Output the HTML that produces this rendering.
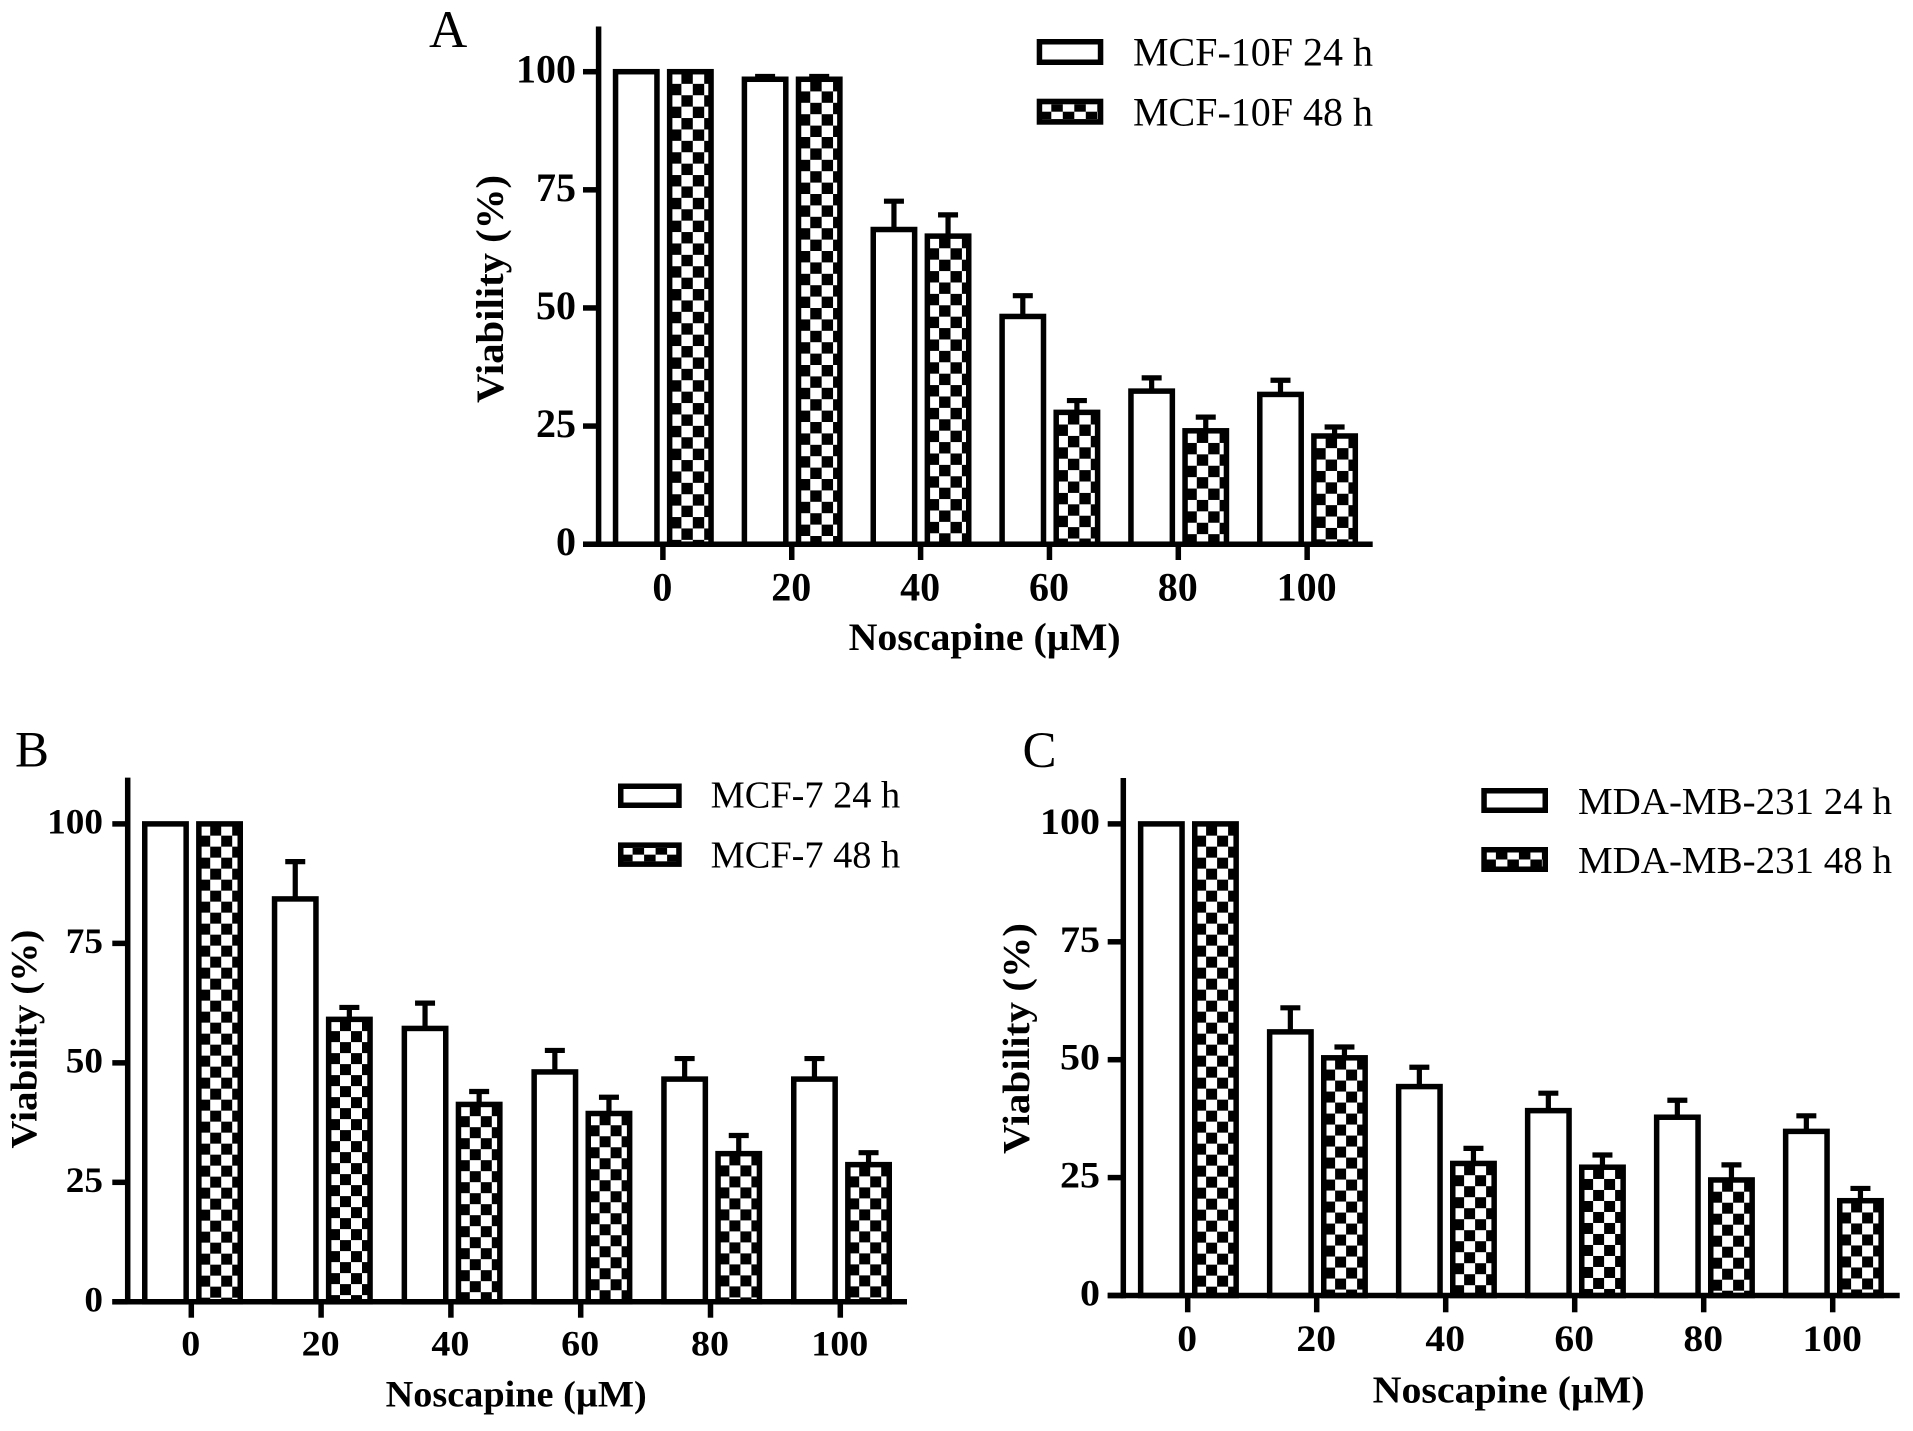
<!DOCTYPE html>
<html lang="en">
<head>
<meta charset="utf-8">
<title>Noscapine viability charts</title>
<style>
html,body{margin:0;padding:0;background:#fff;}
svg{display:block;}
text{font-family:"Liberation Serif","DejaVu Serif",serif;fill:#000;}
</style>
</head>
<body>
<svg id="figure" xmlns="http://www.w3.org/2000/svg" width="1913" height="1431" viewBox="0 0 1913 1431">
<rect x="0" y="0" width="1913" height="1431" fill="#fff"/>
</svg>
<script>
// Shared axis data
const categories = ['0', '20', '40', '60', '80', '100'];
const yTickValues = [0, 25, 50, 75, 100];

// Panel A: MCF-10F
const a24Values = [100, 98.4, 66.6, 48.2, 32.4, 31.7];
const a24Errors = [0, 0.6, 6.0, 4.4, 2.8, 3.0];
const a48Values = [100, 98.4, 65.2, 27.9, 24.0, 22.9];
const a48Errors = [0, 0.6, 4.5, 2.5, 2.9, 1.9];

// Panel B: MCF-7
const b24Values = [100, 84.3, 57.2, 48.1, 46.6, 46.6];
const b24Errors = [0, 7.8, 5.3, 4.5, 4.3, 4.3];
const b48Values = [100, 59.1, 41.3, 39.4, 31.0, 28.7];
const b48Errors = [0, 2.5, 2.7, 3.4, 3.8, 2.5];

// Panel C: MDA-MB-231
const c24Values = [100, 55.9, 44.3, 39.2, 37.8, 34.8];
const c24Errors = [0, 5.1, 4.1, 3.7, 3.6, 3.3];
const c48Values = [100, 50.4, 28.0, 27.2, 24.5, 20.1];
const c48Errors = [0, 2.3, 3.2, 2.6, 3.2, 2.6];

const NS = 'http://www.w3.org/2000/svg';
const figure = document.getElementById('figure');
const defs = document.createElementNS(NS, 'defs');
figure.appendChild(defs);
let patternCount = 0;

function shape(parent, tag, attrs) {
  const el = document.createElementNS(NS, tag);
  for (const k in attrs) el.setAttribute(k, attrs[k]);
  parent.appendChild(el);
  return el;
}

function checker(x, y, cw, ch) {
  patternCount += 1;
  const id = 'chk' + patternCount;
  const p = shape(defs, 'pattern', {id: id, patternUnits: 'userSpaceOnUse', x: x, y: y, width: cw * 2, height: ch * 2});
  shape(p, 'rect', {x: 0, y: 0, width: cw * 2, height: ch * 2, fill: '#fff'});
  shape(p, 'rect', {x: cw, y: 0, width: cw, height: ch, fill: '#000'});
  shape(p, 'rect', {x: 0, y: ch, width: cw, height: ch, fill: '#000'});
  return 'url(#' + id + ')';
}

function label(parent, str, x, y, size, opts) {
  const a = {x: x, y: y, 'font-size': size};
  if (opts.bold) a['font-weight'] = 'bold';
  if (opts.anchor) a['text-anchor'] = opts.anchor;
  if (opts.len) { a.textLength = opts.len; a.lengthAdjust = 'spacingAndGlyphs'; }
  if (opts.rotate) a.transform = 'rotate(-90 ' + x + ' ' + y + ')';
  const t = shape(parent, 'text', a);
  t.textContent = str;
  return t;
}

function drawPanel(cfg) {
  const g = shape(figure, 'g', {});
  
  
  const y = v => cfg.yZero - (cfg.yZero - cfg.yHundred) * v / 100;
  const x = i => cfg.xZero + cfg.pitch * i;
  const SW = 5.5, ESW = 5.2, BW = 46.9, GAP = 3.6;

  const letter = label(g, cfg.letter, cfg.letterX, cfg.letterY, cfg.letterSize, {});
  
  

  categories.forEach((c, i) => {
    const pair = x(i) + cfg.barShift;
    [[cfg.v24, cfg.e24, false, pair - GAP - BW], [cfg.v48, cfg.e48, true, pair + GAP]].forEach(s => {
      const val = s[0][i], err = s[1][i], left = s[3];
      const cx = left + BW / 2, top = y(val), bottom = cfg.yZero;
      if (err > 0) {
        const stem = shape(g, 'line', {x1: cx, x2: cx, y1: top, y2: y(val + err), stroke: '#000', 'stroke-width': ESW});
        
        
        const cap = shape(g, 'line', {x1: cx - 10, x2: cx + 10, y1: y(val + err), y2: y(val + err), stroke: '#000', 'stroke-width': ESW});
        
        
      }
      const fill = s[2] ? checker(left + SW - 2.4, top + SW / 2 - 2, cfg.cell, cfg.cell) : '#fff';
      const bar = shape(g, 'rect', {x: left + SW / 2, y: top, width: BW - SW, height: bottom - top, fill: fill, stroke: '#000', 'stroke-width': SW});
      
      
    });
  });

  const yAxis = shape(g, 'line', {x1: cfg.yAxisX, x2: cfg.yAxisX, y1: cfg.yTop, y2: cfg.yZero + 2.7, stroke: '#000', 'stroke-width': SW});
  
  
  const xAxis = shape(g, 'line', {x1: cfg.tickLeft, x2: cfg.xRight, y1: cfg.yZero, y2: cfg.yZero, stroke: '#000', 'stroke-width': SW});
  
  

  yTickValues.forEach(v => {
    const t = shape(g, 'line', {x1: cfg.tickLeft, x2: cfg.yAxisX, y1: y(v), y2: y(v), stroke: '#000', 'stroke-width': SW});
    
    
    const s = String(v);
    const l = label(g, s, cfg.yLabelRight, y(v) + cfg.yLabelDy, cfg.tickFont, {bold: true, anchor: 'end', len: s.length * cfg.yDigitW});
    
    
  });

  categories.forEach((c, i) => {
    const t = shape(g, 'line', {x1: x(i), x2: x(i), y1: cfg.yZero, y2: cfg.xTickBottom, stroke: '#000', 'stroke-width': SW});
    
    
    const l = label(g, c, x(i) - 0.5, cfg.xLabelY, cfg.tickFont, {bold: true, anchor: 'middle', len: c.length * cfg.xDigitW});
    
    
  });

  const xt = label(g, 'Noscapine (µM)', cfg.xTitleX, cfg.xTitleY, cfg.titleFont, {bold: true, len: cfg.xTitleW});
  
  
  const yt = label(g, 'Viability (%)', cfg.yTitleX, cfg.yTitleY, cfg.titleFont, {bold: true, len: cfg.yTitleW, rotate: true});
  
  

  cfg.legend.forEach((entry, i) => {
    const boxY = cfg.legendBoxY[i];
    const patterned = i === 1;
    const H = cfg.legendBoxH, W = cfg.legendBoxW;
    const fill = patterned ? checker(cfg.legendBoxX + SW - 2.4, boxY + SW, 11.5, (H - 2 * SW) / 2) : '#fff';
    const box = shape(g, 'rect', {x: cfg.legendBoxX + SW / 2, y: boxY + SW / 2, width: W - SW, height: H - SW, fill: fill, stroke: '#000', 'stroke-width': SW});
    
    
    const tx = label(g, entry, cfg.legendTextX, cfg.legendTextY[i], cfg.legendFont, {len: cfg.legendTextW});
    
    
  });
}

drawPanel({
  key: 'mcf-10f', letter: 'A', letterX: 429, letterY: 47, letterSize: 53,
  v24: a24Values, e24: a24Errors, v48: a48Values, e48: a48Errors,
  yZero: 544.2, yHundred: 71.7, yTop: 26.5, yAxisX: 598.6, tickLeft: 583, xRight: 1372.7,
  xZero: 662.9, pitch: 128.85, barShift: 0.4, xTickBottom: 560, cell: 11.4,
  tickFont: 40, yDigitW: 20, xDigitW: 20, yLabelRight: 576, yLabelDy: 11, xLabelY: 600.7,
  titleFont: 39, xTitleX: 848.6, xTitleY: 650, xTitleW: 272, yTitleX: 503, yTitleY: 403, yTitleW: 228,
  legend: ['MCF-10F 24 h', 'MCF-10F 48 h'], legendBoxX: 1036.7, legendBoxY: [39, 98.7], legendBoxW: 66.6, legendBoxH: 26,
  legendTextX: 1133, legendTextY: [65.7, 125.3], legendFont: 40, legendTextW: 240
});

drawPanel({
  key: 'mcf-7', letter: 'B', letterX: 15, letterY: 766.7, letterSize: 51,
  v24: b24Values, e24: b24Errors, v48: b48Values, e48: b48Errors,
  yZero: 1301.8, yHundred: 823.9, yTop: 777.6, yAxisX: 127.7, tickLeft: 112.3, xRight: 907,
  xZero: 191.3, pitch: 129.8, barShift: 1.2, xTickBottom: 1317.7, cell: 11,
  tickFont: 36, yDigitW: 18.6, xDigitW: 19, yLabelRight: 103, yLabelDy: 9.5, xLabelY: 1355.5,
  titleFont: 37, xTitleX: 385.7, xTitleY: 1406.5, xTitleW: 261, yTitleX: 36.7, yTitleY: 1148.6, yTitleW: 219,
  legend: ['MCF-7 24 h', 'MCF-7 48 h'], legendBoxX: 618, legendBoxY: [783.5, 842.4], legendBoxW: 63.7, legendBoxH: 24.5,
  legendTextX: 710.7, legendTextY: [807.5, 867.4], legendFont: 38, legendTextW: 189.5
});

drawPanel({
  key: 'mda-mb-231', letter: 'C', letterX: 1022.5, letterY: 767, letterSize: 51,
  v24: c24Values, e24: c24Errors, v48: c48Values, e48: c48Errors,
  yZero: 1295.5, yHundred: 823.9, yTop: 778, yAxisX: 1123.3, tickLeft: 1107.7, xRight: 1899.7,
  xZero: 1187.7, pitch: 129, barShift: 0.7, xTickBottom: 1312.3, cell: 11,
  tickFont: 37, yDigitW: 20, xDigitW: 19.8, yLabelRight: 1100, yLabelDy: 10, xLabelY: 1351,
  titleFont: 38, xTitleX: 1372.7, xTitleY: 1402.5, xTitleW: 272, yTitleX: 1029, yTitleY: 1154, yTitleW: 231,
  legend: ['MDA-MB-231 24 h', 'MDA-MB-231 48 h'], legendBoxX: 1481.3, legendBoxY: [788, 847], legendBoxW: 66.7, legendBoxH: 25,
  legendTextX: 1578, legendTextY: [814, 873], legendFont: 38, legendTextW: 314
});
</script>
</body>
</html>
